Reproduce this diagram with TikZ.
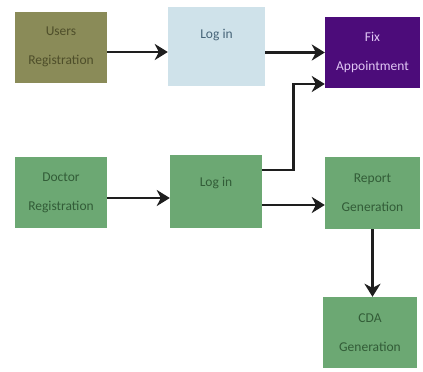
\documentclass[tikz,border=0pt]{standalone}
\usepackage{fontspec}
\setmainfont{Carlito}
\usetikzlibrary{arrows.meta,calc}
\definecolor{olivebox}{RGB}{138,139,88}
\definecolor{olivetxt}{RGB}{78,78,42}
\definecolor{bluebox}{RGB}{207,226,234}
\definecolor{bluetxt}{RGB}{70,100,120}
\definecolor{purplebox}{RGB}{76,12,122}
\definecolor{purpletxt}{RGB}{225,200,245}
\definecolor{greenbox}{RGB}{108,168,115}
\definecolor{greentxt}{RGB}{50,92,55}
\definecolor{arrowcol}{RGB}{30,30,30}
\tikzset{
  box/.style={draw=none, minimum width=92pt, minimum height=71pt, inner sep=0pt, align=center,
    font=\fontsize{13.5}{29}\selectfont},
  lbl/.style={inner sep=0pt, font=\fontsize{13.5}{29}\selectfont},
  arr/.style={draw=arrowcol, line width=2.8pt, -{Stealth[length=13pt,width=16pt,inset=4pt]}},
}
\begin{document}
\begin{tikzpicture}[x=1pt,y=-1pt]
\useasboundingbox (0,0) rectangle (423,372);
% boxes
\node[box, fill=olivebox, text=olivetxt] (ur) at (61,47) {Users\\Registration};
\node[box, fill=bluebox, minimum width=97pt, minimum height=79pt] (l1) at (216.5,46.5) {};
\node[lbl, text=bluetxt] (l1t) at (216.5,35) {Log in};
\node[box, fill=purplebox, text=purpletxt, minimum width=95pt] (fa) at (372.5,52.5) {Fix\\Appointment};
\node[box, fill=greenbox, text=greentxt] (dr) at (61,192.5) {Doctor\\Registration};
\node[box, fill=greenbox, minimum height=73pt] (l2) at (216,191.5) {};
\node[lbl, text=greentxt] (l2t) at (216,183) {Log in};
\node[box, fill=greenbox, text=greentxt, minimum width=95pt, minimum height=72pt] (rg) at (372.5,193) {Report\\Generation};
\node[box, fill=greenbox, text=greentxt, minimum width=94pt] (cda) at (370,332.5) {CDA\\Generation};
% helper coordinates
\coordinate (a1) at ([yshift=-5pt]ur.east);
\coordinate (a2) at ([yshift=-5.5pt]dr.east);
\coordinate (a3) at ([yshift=-12pt]rg.west);
\coordinate (a4) at ([yshift=21.5pt]l2.east);
\coordinate (a5) at ([yshift=-31.5pt]fa.west);
% connectors
\draw[arr] (a1) -- (l1.west |- a1);
\draw[arr] (l1.east |- fa.west) -- (fa.west);
\draw[arr] (a4) -- ++(31,0) |- (a5);
\draw[arr] (a2) -- (l2.west |- a2);
\draw[arr] (l2.east |- a3) -- (a3);
\draw[arr] (rg.south) -- (rg.south |- cda.north);
\end{tikzpicture}
\end{document}
